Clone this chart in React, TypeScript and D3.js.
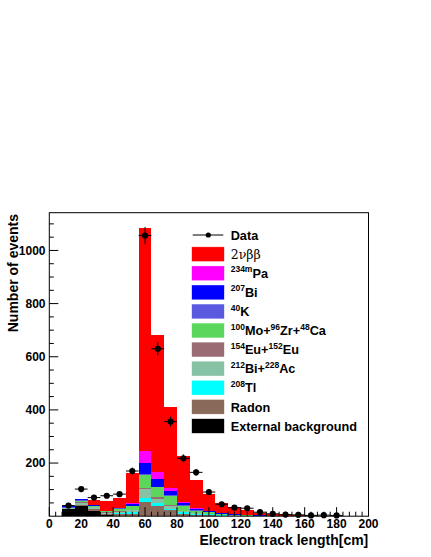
import React from "react";
import * as d3 from "d3";

// ---- data ----
const binLow = [0, 8, 16, 24, 32, 40, 48, 56, 64, 72, 80, 88, 96, 104, 112, 120, 128, 136, 144, 152, 160, 168, 176, 184, 192];
const binWidth = 8;

const extBkg = [0, 26, 38, 21, 4, 2, 1, 2, 1, 1, 1, 1, 1, 0, 0, 0, 0, 0, 0, 0, 0, 0, 0, 0, 0];
const radon = [0, 2, 5, 6, 4, 8, 9, 51, 39, 21, 9, 5, 3, 2, 1, 1, 1, 0.5, 0, 0.5, 0, 0, 0, 0, 0];
const tl208 = [0, 0, 1, 1, 1, 2, 4, 17, 9, 5, 5, 3, 3, 2, 1, 1, 0, 0.5, 0, 0, 0, 0, 0, 0, 0];
const bi212ac228 = [0, 2, 5, 5, 3, 5, 8, 31, 17, 12, 4, 3, 2, 1, 1, 0, 0, 0, 0, 0, 0, 0, 0, 0, 0];
const eu154eu152 = [0, 1, 4, 3, 2, 3, 3, 6, 7, 3, 2, 1, 1, 1, 0, 0, 0, 0, 0, 0, 0, 0, 0, 0, 0];
const moZrCa = [0, 1, 3, 3, 5, 7, 12, 48, 36, 35, 19, 8, 4, 2, 2, 1, 1, 0.5, 0, 0, 0, 0, 0, 0, 0];
const k40 = [0, 3, 5, 1, 1, 2, 3, 3, 2, 2, 1, 1, 1, 1, 1, 0, 0, 0, 0, 0, 0, 0, 0, 0, 0];
const bi207 = [0, 2, 3, 1, 1, 2, 6, 41, 28, 17, 8, 6, 3, 2, 1, 1, 1, 0.5, 1, 0, 0, 0, 0, 0, 2];
const pa234m = [0, 0, 0, 0, 0, 1, 2, 47, 29, 11, 6, 4, 2, 1, 1, 1, 0, 0, 0, 0, 0, 0, 0, 0, 0];
const bb2nu = [0, 1, 1, 20, 37, 38, 113, 838, 515, 303, 173, 104, 62, 39, 28, 18, 10, 7, 5, 3, 2, 1.5, 1, 0.7, 0.3];

const dataX = [12, 20, 28, 36, 44, 52, 60, 68, 76, 84, 92, 100, 108, 116, 124, 132, 140, 148, 156, 164, 172, 180];
const dataY = [40, 102, 70, 77, 83, 170, 1056, 630, 356, 218, 165, 91, 45, 32, 30, 15, 9, 6, 5, 3, 4, 3];

const xTicks = [0, 20, 40, 60, 80, 100, 120, 140, 160, 180, 200];
const yTicks = [200, 400, 600, 800, 1000];

// stacking order bottom -> top
const layers = [
  { key: "ext", values: extBkg, color: "#000000" },
  { key: "radon", values: radon, color: "#8a6a5a" },
  { key: "tl", values: tl208, color: "#00ffff" },
  { key: "biac", values: bi212ac228, color: "#86c2a4" },
  { key: "eu", values: eu154eu152, color: "#996b72" },
  { key: "mo", values: moZrCa, color: "#5cd65c" },
  { key: "k", values: k40, color: "#5a5ae0" },
  { key: "bi", values: bi207, color: "#0000ff" },
  { key: "pa", values: pa234m, color: "#ff00ff" },
  { key: "bb", values: bb2nu, color: "#ff0000" },
];

const FONT = "'Liberation Sans', Arial, Helvetica, sans-serif";

type Part = { t: string; sup?: boolean };
const legendItems: { color: string | null; parts: Part[]; serif?: boolean }[] = [
  { color: null, parts: [{ t: "Data" }] },
  { color: "#ff0000", parts: [{ t: "2νββ" }], serif: true },
  { color: "#ff00ff", parts: [{ t: "234m", sup: true }, { t: "Pa" }] },
  { color: "#0000ff", parts: [{ t: "207", sup: true }, { t: "Bi" }] },
  { color: "#5a5ae0", parts: [{ t: "40", sup: true }, { t: "K" }] },
  { color: "#5cd65c", parts: [{ t: "100", sup: true }, { t: "Mo+" }, { t: "96", sup: true }, { t: "Zr+" }, { t: "48", sup: true }, { t: "Ca" }] },
  { color: "#996b72", parts: [{ t: "154", sup: true }, { t: "Eu+" }, { t: "152", sup: true }, { t: "Eu" }] },
  { color: "#86c2a4", parts: [{ t: "212", sup: true }, { t: "Bi+" }, { t: "228", sup: true }, { t: "Ac" }] },
  { color: "#00ffff", parts: [{ t: "208", sup: true }, { t: "Tl" }] },
  { color: "#8a6a5a", parts: [{ t: "Radon" }] },
  { color: "#000000", parts: [{ t: "External background" }] },
];

export default function App() {
  const W = 431, H = 557;
  const x0 = 49.3, x1 = 368.5, yTop = 212.7, yBot = 516.2;
  const x = d3.scaleLinear().domain([0, 200]).range([x0, x1]);
  const y = d3.scaleLinear().domain([0, 1142]).range([yBot, yTop]);

  // build stacked rects
  const rects: JSX.Element[] = [];
  binLow.forEach((lo, i) => {
    let acc = 0;
    layers.forEach((L) => {
      const v = L.values[i];
      if (v > 0) {
        const ya = y(acc), yb = y(acc + v);
        rects.push(
          <rect key={L.key + i} x={x(lo)} width={x(lo + binWidth) - x(lo)} y={yb} height={ya - yb} fill={L.color} />
        );
      }
      acc += v;
    });
  });

  const minorX = d3.range(0, 201, 4).filter((v) => v % 20 !== 0);
  const minorY = d3.range(50, 1142, 50).filter((v) => v % 200 !== 0);

  const legX = 192, legSwW = 32, legTextX = 230.7, legRow0 = 235, legStep = 19.1;

  return (
    <svg width={W} height={H} style={{ position: "absolute", left: 0, top: 0, background: "#fff" }} fontFamily={FONT}>
      <rect x={0} y={0} width={W} height={H} fill="#fff" />
      <g shapeRendering="crispEdges">{rects}</g>

      {/* frame */}
      <rect x={x0} y={yTop} width={x1 - x0} height={yBot - yTop} fill="none" stroke="#000" strokeWidth={1} />

      {/* ticks */}
      <g stroke="#000" strokeWidth={1}>
        {xTicks.map((t) => (
          <line key={"xt" + t} x1={x(t)} x2={x(t)} y1={yBot} y2={yBot - 9} />
        ))}
        {minorX.map((t) => (
          <line key={"xm" + t} x1={x(t)} x2={x(t)} y1={yBot} y2={yBot - 4.5} />
        ))}
        {yTicks.map((t) => (
          <line key={"yt" + t} x1={x0} x2={x0 + 9} y1={y(t)} y2={y(t)} />
        ))}
        {minorY.map((t) => (
          <line key={"ym" + t} x1={x0} x2={x0 + 4.5} y1={y(t)} y2={y(t)} />
        ))}
      </g>
      <g fontSize={12} fontWeight="bold" fill="#000">
        {xTicks.map((t) => (
          <text key={"xl" + t} x={x(t)} y={527.5} textAnchor="middle">{t}</text>
        ))}
        {yTicks.map((t) => (
          <text key={"yl" + t} x={45.5} y={y(t) + 4.3} textAnchor="end">{t}</text>
        ))}
      </g>
      <text x={368.3} y={545} textAnchor="end" fontSize={14} fontWeight="bold">Electron track length[cm]</text>
      <text transform={`translate(17.8,214) rotate(-90)`} textAnchor="end" fontSize={14} fontWeight="bold">Number of events</text>

      {/* data points */}
      <g stroke="#000" strokeWidth={1}>
        {dataX.map((cx, i) => {
          const v = dataY[i];
          const e = Math.sqrt(v);
          return (
            <g key={"d" + i}>
              <line x1={x(cx - binWidth / 2)} x2={x(cx + binWidth / 2)} y1={y(v)} y2={y(v)} />
              <line x1={x(cx)} x2={x(cx)} y1={y(v + e)} y2={y(Math.max(0, v - e))} />
              <circle cx={x(cx)} cy={y(v)} r={3.1} fill="#000" stroke="none" />
            </g>
          );
        })}
      </g>

      {/* legend */}
      <g>
        {legendItems.map((it, i) => {
          const cy = legRow0 + legStep * i;
          return (
            <g key={"lg" + i}>
              {it.color === null ? (
                <g>
                  <line x1={legX + 0.7} x2={legX + 31.3} y1={cy} y2={cy} stroke="#000" strokeWidth={1} />
                  <circle cx={legX + 16.3} cy={cy} r={2.6} fill="#000" />
                </g>
              ) : (
                <rect x={legX} y={cy - 7} width={legSwW} height={14} fill={it.color} stroke={it.color} strokeOpacity={0.6} strokeWidth={0.6} />
              )}
              <text x={legTextX} y={cy + 4.6} fontSize={it.serif ? 12.5 : 12.7} fontWeight={it.serif ? "normal" : "bold"}
                fontFamily={it.serif ? "'DejaVu Serif', 'Liberation Serif', serif" : FONT}>
                {it.parts.map((p, j) =>
                  p.sup ? (
                    <tspan key={j} fontSize={8.5} dy={-5.5}>{p.t}</tspan>
                  ) : (
                    <tspan key={j} dy={j > 0 && it.parts[j - 1].sup ? 5.5 : 0}>{p.t}</tspan>
                  )
                )}
              </text>
            </g>
          );
        })}
      </g>
    </svg>
  );
}
